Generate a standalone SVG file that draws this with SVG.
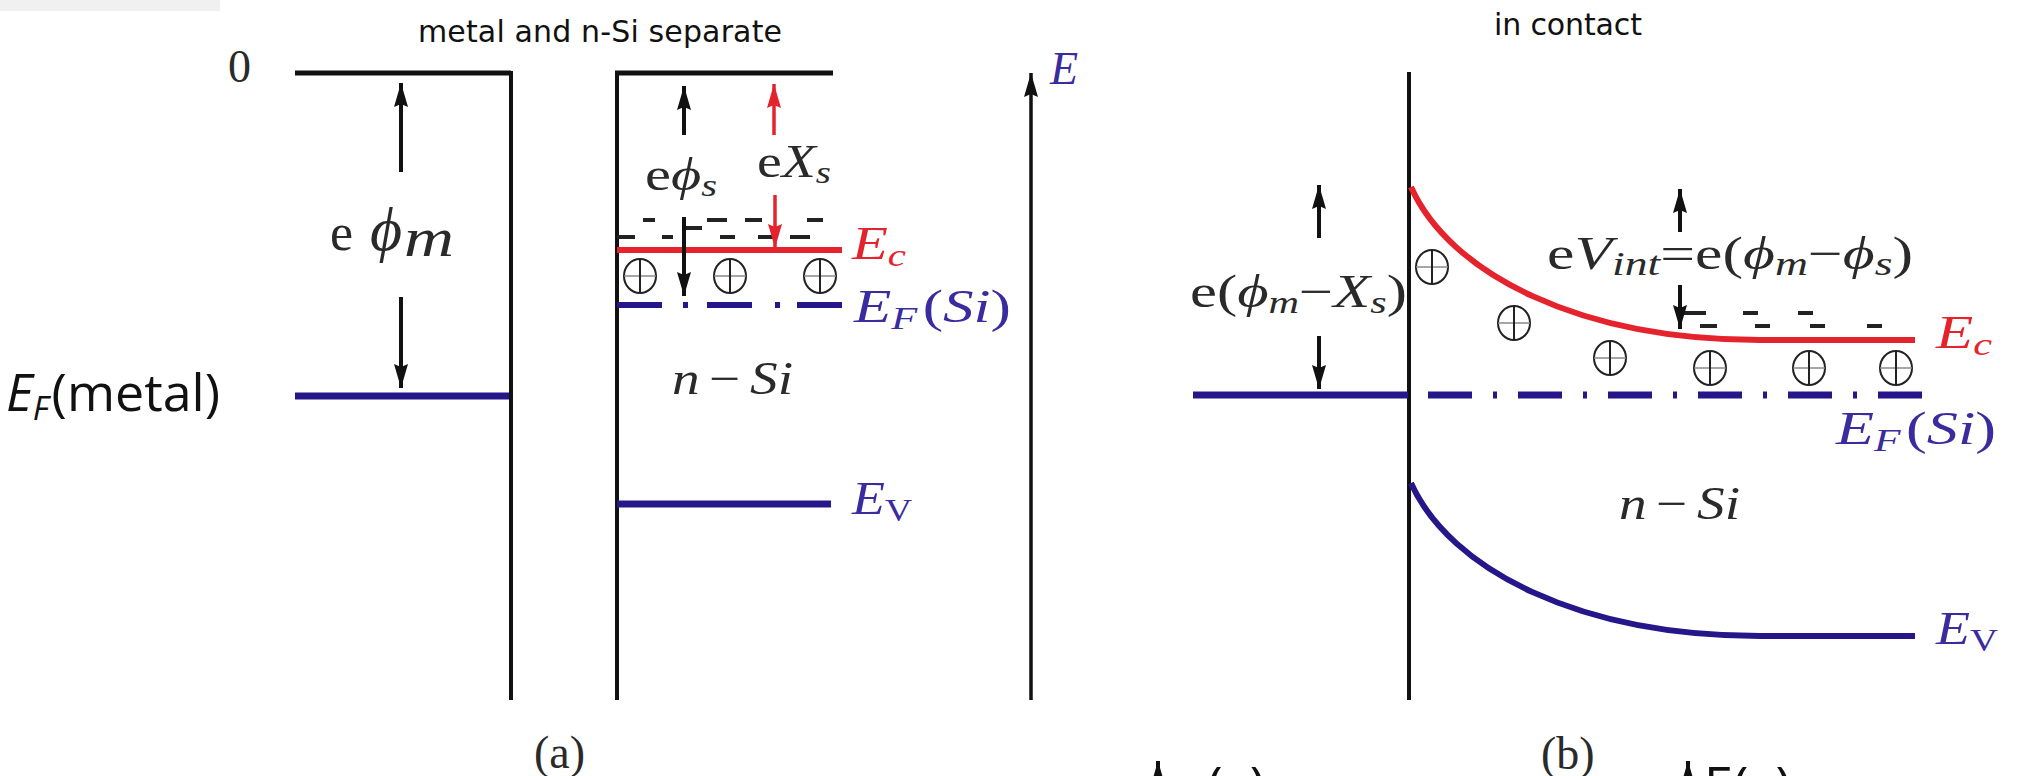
<svg xmlns="http://www.w3.org/2000/svg" width="2020" height="776" viewBox="0 0 2020 776">
<style>
.blk{stroke:#111;fill:none}
.nv{stroke:#25178a;fill:none}
.rd{stroke:#e5232c;fill:none}
.ttl{font-family:"DejaVu Sans",sans-serif;font-size:30px;fill:#111}
.m{font-family:"Liberation Serif",serif;font-size:46px;font-style:italic;fill:#2a2a2a}
.up{font-style:normal}
.nvt{fill:#3a2c9e}
.rdt{fill:#e5232c}
.sans{font-family:"Open Sans",sans-serif;font-size:52px;fill:#111}
.dash{stroke:#222;stroke-width:4;fill:none}
</style>
<defs>
<marker id="ah" viewBox="0 0 24 16" refX="24" refY="8" markerWidth="24" markerHeight="16" markerUnits="userSpaceOnUse" orient="auto"><path d="M0,1 L24,8 L0,15 L3,8 z" fill="#111"/></marker>
<marker id="ahr" viewBox="0 0 24 16" refX="24" refY="8" markerWidth="24" markerHeight="16" markerUnits="userSpaceOnUse" orient="auto"><path d="M0,1 L24,8 L0,15 L3,8 z" fill="#e5232c"/></marker>
<g id="plus"><ellipse cx="0" cy="0" rx="16" ry="17" fill="none" stroke="#222" stroke-width="2"/><line x1="-16" y1="0" x2="16" y2="0" stroke="#888" stroke-width="1.5"/><line x1="0" y1="-17" x2="0" y2="17" stroke="#222" stroke-width="2"/></g>
</defs>
<rect x="0" y="0" width="220" height="11" fill="#f0f0f0"/>

<text class="ttl" x="418" y="42" textLength="364">metal and n-Si separate</text>
<text class="ttl" x="1494" y="35" textLength="148">in contact</text>

<!-- panel (a) -->
<g id="metal-a">
<path class="blk" d="M295 73 H511" stroke-width="5"/>
<path class="blk" d="M511 71 V700" stroke-width="4"/>
<path class="nv" d="M295 396 H509" stroke-width="7"/>
<text class="m up" x="228" y="82" font-size="38">0</text>
<text class="m" y="250"><tspan class="up" x="330" font-size="52">e</tspan><tspan x="370" font-size="62">ϕ</tspan><tspan x="404" y="256" font-size="54" textLength="50" lengthAdjust="spacingAndGlyphs">m</tspan></text>
<text class="sans" x="6" y="411" textLength="214" lengthAdjust="spacingAndGlyphs"><tspan font-style="italic">E</tspan><tspan font-style="italic" font-size="33" dy="9">F</tspan><tspan dy="-9" dx="3">(metal)</tspan></text>
</g>

<g id="si-a">
<path class="blk" d="M617 73 V700" stroke-width="4"/>
<path class="blk" d="M833 73 H615" stroke-width="5"/>
<path class="rd" d="M617 250 H842" stroke-width="6"/>
<path class="nv" d="M617 305 H662 M707 305 H752 M797 305 H842" stroke-width="6"/>
<path class="nv" d="M683 305 H688 M775 305 H780" stroke-width="6"/>
<path class="nv" d="M617 504 H831" stroke-width="7"/>
<path class="dash" d="M643 220 H655 M707 220 H727 M745 220 H762 M807 220 H823 M617 237 H635 M662 237 H673 M720 237 H735 M758 237 H773 M790 237 H810 M686 228 H702"/>
<use href="#plus" x="640" y="276"/>
<use href="#plus" x="730" y="276"/>
<use href="#plus" x="820" y="276"/>
<text class="m" x="645" y="190" textLength="72" lengthAdjust="spacingAndGlyphs"><tspan class="up">e</tspan>ϕ<tspan font-size="32" dy="6">s</tspan></text>
<text class="m" x="757" y="177" textLength="74" lengthAdjust="spacingAndGlyphs"><tspan class="up">e</tspan>X<tspan font-size="32" dy="6">s</tspan></text>
<text class="m rdt" x="852" y="259" textLength="54" lengthAdjust="spacingAndGlyphs">E<tspan font-size="32" dy="7">c</tspan></text>
<text class="m nvt" x="854" y="322" textLength="157" lengthAdjust="spacingAndGlyphs">E<tspan font-size="32" dy="7">F</tspan><tspan dy="-7" dx="4" class="up">(</tspan>Si<tspan class="up">)</tspan></text>
<text class="m" x="672" y="394" textLength="121" lengthAdjust="spacingAndGlyphs">n<tspan class="up" dx="8">−</tspan><tspan dx="8">Si</tspan></text>
<text class="m nvt" x="852" y="514" textLength="60" lengthAdjust="spacingAndGlyphs">E<tspan font-size="32" dy="7" class="up">V</tspan></text>
</g>

<g id="axis-a">
<path class="blk" d="M1031 700 V73" stroke-width="3.5" marker-end="url(#ah)"/>
<text class="m nvt" x="1050" y="84" font-size="50">E</text>
<text class="m up" x="534" y="768" font-size="44">(a)</text>
</g>

<!-- panel (b) -->
<g id="junction-b">
<path class="blk" d="M1409 72 V700" stroke-width="4"/>
<path class="nv" d="M1193 395 H1408" stroke-width="7"/>
<path class="nv" d="M1428 395 H1924" stroke-width="7" stroke-dasharray="44 21 4 21"/>
<path class="rd" d="M1411 187 C1450 274 1580 340 1760 340 L1915 340" stroke-width="6"/>
<path class="nv" d="M1411 483 C1450 570 1580 636 1760 636 L1915 636" stroke-width="6"/>
<path class="dash" d="M1683 313 H1706 M1743 313 H1758 M1798 313 H1813 M1700 326 H1717 M1755 326 H1770 M1810 326 H1825 M1867 326 H1882"/>
<use href="#plus" x="1432" y="267"/>
<use href="#plus" x="1514" y="323"/>
<use href="#plus" x="1610" y="358"/>
<use href="#plus" x="1710" y="368"/>
<use href="#plus" x="1809" y="368"/>
<use href="#plus" x="1896" y="368"/>
<text class="m" x="1190" y="307" textLength="217" lengthAdjust="spacingAndGlyphs"><tspan class="up">e(</tspan>ϕ<tspan font-size="32" dy="6">m</tspan><tspan dy="-6" class="up">−</tspan>X<tspan font-size="32" dy="6">s</tspan><tspan dy="-6" class="up">)</tspan></text>
<text class="m" x="1547" y="269" font-size="50" textLength="366" lengthAdjust="spacingAndGlyphs"><tspan class="up">e</tspan>V<tspan font-size="34" dy="6">int</tspan><tspan dy="-6" class="up">=e(</tspan>ϕ<tspan font-size="34" dy="6">m</tspan><tspan dy="-6" class="up">−</tspan>ϕ<tspan font-size="34" dy="6">s</tspan><tspan dy="-6" class="up">)</tspan></text>
<text class="m rdt" x="1936" y="348" textLength="56" lengthAdjust="spacingAndGlyphs">E<tspan font-size="32" dy="7">c</tspan></text>
<text class="m nvt" x="1836" y="444" textLength="160" lengthAdjust="spacingAndGlyphs">E<tspan font-size="32" dy="7">F</tspan><tspan dy="-7" dx="4" class="up">(</tspan>Si<tspan class="up">)</tspan></text>
<text class="m" x="1619" y="519" textLength="121" lengthAdjust="spacingAndGlyphs">n<tspan class="up" dx="8">−</tspan><tspan dx="8">Si</tspan></text>
<text class="m nvt" x="1936" y="644" textLength="62" lengthAdjust="spacingAndGlyphs">E<tspan font-size="32" dy="7" class="up">V</tspan></text>
<text class="m up" x="1541" y="769" font-size="44">(b)</text>
</g>

<g id="connectors">
<path class="blk" d="M401 172 V83" stroke-width="4" marker-end="url(#ah)"/>
<path class="blk" d="M401 297 V388" stroke-width="4" marker-end="url(#ah)"/>
<path class="blk" d="M684 135 V86" stroke-width="4" marker-end="url(#ah)"/>
<path class="blk" d="M684 217 V296" stroke-width="4" marker-end="url(#ah)"/>
<path class="rd" d="M774 135 V84" stroke-width="3.5" marker-end="url(#ahr)"/>
<path class="rd" d="M775 195 V248" stroke-width="3.5" marker-end="url(#ahr)"/>
<path class="blk" d="M1319 238 V185" stroke-width="4" marker-end="url(#ah)"/>
<path class="blk" d="M1319 336 V389" stroke-width="4" marker-end="url(#ah)"/>
<path class="blk" d="M1680 232 V189" stroke-width="4" marker-end="url(#ah)"/>
<path class="blk" d="M1680 285 V329" stroke-width="4" marker-end="url(#ah)"/>
<path class="blk" d="M1158 800 V761" stroke-width="4" marker-end="url(#ah)"/>
<path class="blk" d="M1688 800 V761" stroke-width="4" marker-end="url(#ah)"/>
</g>
<g id="bottom-labels">
<text class="sans" x="1176" y="804" font-size="48">ρ(x)</text>
<text class="sans" x="1704" y="804" font-size="48">E(x)</text>
</g>
</svg>
